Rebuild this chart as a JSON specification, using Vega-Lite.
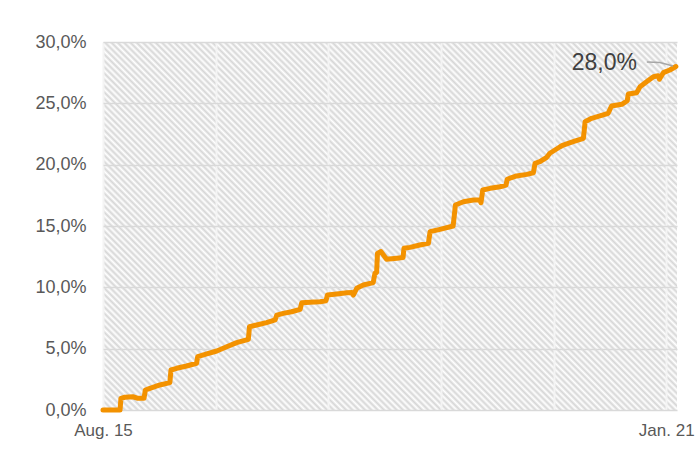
{
  "$schema": "https://vega.github.io/schema/vega-lite/v6.json",
  "width": 574,
  "height": 368,
  "autosize": {"type": "none"},
  "padding": {"left": 103, "top": 42, "right": 22, "bottom": 50},
  "background": "white",
  "view": {
    "stroke": null,
    "fill": {
      "gradient": "linear", "x1": 0, "y1": 1, "x2": 1.5598, "y2": 0,
      "stops": [
{"offset":0,"color":"#fff"},{"offset":0.0025,"color":"#d6d6d6"},{"offset":0.005,"color":"#fff"},{"offset":0.0075,"color":"#d6d6d6"},
{"offset":0.01,"color":"#fff"},{"offset":0.0125,"color":"#d6d6d6"},{"offset":0.015,"color":"#fff"},{"offset":0.0175,"color":"#d6d6d6"},
{"offset":0.02,"color":"#fff"},{"offset":0.0225,"color":"#d6d6d6"},{"offset":0.025,"color":"#fff"},{"offset":0.0275,"color":"#d6d6d6"},
{"offset":0.03,"color":"#fff"},{"offset":0.0325,"color":"#d6d6d6"},{"offset":0.035,"color":"#fff"},{"offset":0.0375,"color":"#d6d6d6"},
{"offset":0.04,"color":"#fff"},{"offset":0.0425,"color":"#d6d6d6"},{"offset":0.045,"color":"#fff"},{"offset":0.0475,"color":"#d6d6d6"},
{"offset":0.05,"color":"#fff"},{"offset":0.0525,"color":"#d6d6d6"},{"offset":0.055,"color":"#fff"},{"offset":0.0575,"color":"#d6d6d6"},
{"offset":0.06,"color":"#fff"},{"offset":0.0625,"color":"#d6d6d6"},{"offset":0.065,"color":"#fff"},{"offset":0.0675,"color":"#d6d6d6"},
{"offset":0.07,"color":"#fff"},{"offset":0.0725,"color":"#d6d6d6"},{"offset":0.075,"color":"#fff"},{"offset":0.0775,"color":"#d6d6d6"},
{"offset":0.08,"color":"#fff"},{"offset":0.0825,"color":"#d6d6d6"},{"offset":0.085,"color":"#fff"},{"offset":0.0875,"color":"#d6d6d6"},
{"offset":0.09,"color":"#fff"},{"offset":0.0925,"color":"#d6d6d6"},{"offset":0.095,"color":"#fff"},{"offset":0.0975,"color":"#d6d6d6"},
{"offset":0.10,"color":"#fff"},{"offset":0.1025,"color":"#d6d6d6"},{"offset":0.105,"color":"#fff"},{"offset":0.1075,"color":"#d6d6d6"},
{"offset":0.11,"color":"#fff"},{"offset":0.1125,"color":"#d6d6d6"},{"offset":0.115,"color":"#fff"},{"offset":0.1175,"color":"#d6d6d6"},
{"offset":0.12,"color":"#fff"},{"offset":0.1225,"color":"#d6d6d6"},{"offset":0.125,"color":"#fff"},{"offset":0.1275,"color":"#d6d6d6"},
{"offset":0.13,"color":"#fff"},{"offset":0.1325,"color":"#d6d6d6"},{"offset":0.135,"color":"#fff"},{"offset":0.1375,"color":"#d6d6d6"},
{"offset":0.14,"color":"#fff"},{"offset":0.1425,"color":"#d6d6d6"},{"offset":0.145,"color":"#fff"},{"offset":0.1475,"color":"#d6d6d6"},
{"offset":0.15,"color":"#fff"},{"offset":0.1525,"color":"#d6d6d6"},{"offset":0.155,"color":"#fff"},{"offset":0.1575,"color":"#d6d6d6"},
{"offset":0.16,"color":"#fff"},{"offset":0.1625,"color":"#d6d6d6"},{"offset":0.165,"color":"#fff"},{"offset":0.1675,"color":"#d6d6d6"},
{"offset":0.17,"color":"#fff"},{"offset":0.1725,"color":"#d6d6d6"},{"offset":0.175,"color":"#fff"},{"offset":0.1775,"color":"#d6d6d6"},
{"offset":0.18,"color":"#fff"},{"offset":0.1825,"color":"#d6d6d6"},{"offset":0.185,"color":"#fff"},{"offset":0.1875,"color":"#d6d6d6"},
{"offset":0.19,"color":"#fff"},{"offset":0.1925,"color":"#d6d6d6"},{"offset":0.195,"color":"#fff"},{"offset":0.1975,"color":"#d6d6d6"},
{"offset":0.20,"color":"#fff"},{"offset":0.2025,"color":"#d6d6d6"},{"offset":0.205,"color":"#fff"},{"offset":0.2075,"color":"#d6d6d6"},
{"offset":0.21,"color":"#fff"},{"offset":0.2125,"color":"#d6d6d6"},{"offset":0.215,"color":"#fff"},{"offset":0.2175,"color":"#d6d6d6"},
{"offset":0.22,"color":"#fff"},{"offset":0.2225,"color":"#d6d6d6"},{"offset":0.225,"color":"#fff"},{"offset":0.2275,"color":"#d6d6d6"},
{"offset":0.23,"color":"#fff"},{"offset":0.2325,"color":"#d6d6d6"},{"offset":0.235,"color":"#fff"},{"offset":0.2375,"color":"#d6d6d6"},
{"offset":0.24,"color":"#fff"},{"offset":0.2425,"color":"#d6d6d6"},{"offset":0.245,"color":"#fff"},{"offset":0.2475,"color":"#d6d6d6"},
{"offset":0.25,"color":"#fff"},{"offset":0.2525,"color":"#d6d6d6"},{"offset":0.255,"color":"#fff"},{"offset":0.2575,"color":"#d6d6d6"},
{"offset":0.26,"color":"#fff"},{"offset":0.2625,"color":"#d6d6d6"},{"offset":0.265,"color":"#fff"},{"offset":0.2675,"color":"#d6d6d6"},
{"offset":0.27,"color":"#fff"},{"offset":0.2725,"color":"#d6d6d6"},{"offset":0.275,"color":"#fff"},{"offset":0.2775,"color":"#d6d6d6"},
{"offset":0.28,"color":"#fff"},{"offset":0.2825,"color":"#d6d6d6"},{"offset":0.285,"color":"#fff"},{"offset":0.2875,"color":"#d6d6d6"},
{"offset":0.29,"color":"#fff"},{"offset":0.2925,"color":"#d6d6d6"},{"offset":0.295,"color":"#fff"},{"offset":0.2975,"color":"#d6d6d6"},
{"offset":0.30,"color":"#fff"},{"offset":0.3025,"color":"#d6d6d6"},{"offset":0.305,"color":"#fff"},{"offset":0.3075,"color":"#d6d6d6"},
{"offset":0.31,"color":"#fff"},{"offset":0.3125,"color":"#d6d6d6"},{"offset":0.315,"color":"#fff"},{"offset":0.3175,"color":"#d6d6d6"},
{"offset":0.32,"color":"#fff"},{"offset":0.3225,"color":"#d6d6d6"},{"offset":0.325,"color":"#fff"},{"offset":0.3275,"color":"#d6d6d6"},
{"offset":0.33,"color":"#fff"},{"offset":0.3325,"color":"#d6d6d6"},{"offset":0.335,"color":"#fff"},{"offset":0.3375,"color":"#d6d6d6"},
{"offset":0.34,"color":"#fff"},{"offset":0.3425,"color":"#d6d6d6"},{"offset":0.345,"color":"#fff"},{"offset":0.3475,"color":"#d6d6d6"},
{"offset":0.35,"color":"#fff"},{"offset":0.3525,"color":"#d6d6d6"},{"offset":0.355,"color":"#fff"},{"offset":0.3575,"color":"#d6d6d6"},
{"offset":0.36,"color":"#fff"},{"offset":0.3625,"color":"#d6d6d6"},{"offset":0.365,"color":"#fff"},{"offset":0.3675,"color":"#d6d6d6"},
{"offset":0.37,"color":"#fff"},{"offset":0.3725,"color":"#d6d6d6"},{"offset":0.375,"color":"#fff"},{"offset":0.3775,"color":"#d6d6d6"},
{"offset":0.38,"color":"#fff"},{"offset":0.3825,"color":"#d6d6d6"},{"offset":0.385,"color":"#fff"},{"offset":0.3875,"color":"#d6d6d6"},
{"offset":0.39,"color":"#fff"},{"offset":0.3925,"color":"#d6d6d6"},{"offset":0.395,"color":"#fff"},{"offset":0.3975,"color":"#d6d6d6"},
{"offset":0.40,"color":"#fff"},{"offset":0.4025,"color":"#d6d6d6"},{"offset":0.405,"color":"#fff"},{"offset":0.4075,"color":"#d6d6d6"},
{"offset":0.41,"color":"#fff"},{"offset":0.4125,"color":"#d6d6d6"},{"offset":0.415,"color":"#fff"},{"offset":0.4175,"color":"#d6d6d6"},
{"offset":0.42,"color":"#fff"},{"offset":0.4225,"color":"#d6d6d6"},{"offset":0.425,"color":"#fff"},{"offset":0.4275,"color":"#d6d6d6"},
{"offset":0.43,"color":"#fff"},{"offset":0.4325,"color":"#d6d6d6"},{"offset":0.435,"color":"#fff"},{"offset":0.4375,"color":"#d6d6d6"},
{"offset":0.44,"color":"#fff"},{"offset":0.4425,"color":"#d6d6d6"},{"offset":0.445,"color":"#fff"},{"offset":0.4475,"color":"#d6d6d6"},
{"offset":0.45,"color":"#fff"},{"offset":0.4525,"color":"#d6d6d6"},{"offset":0.455,"color":"#fff"},{"offset":0.4575,"color":"#d6d6d6"},
{"offset":0.46,"color":"#fff"},{"offset":0.4625,"color":"#d6d6d6"},{"offset":0.465,"color":"#fff"},{"offset":0.4675,"color":"#d6d6d6"},
{"offset":0.47,"color":"#fff"},{"offset":0.4725,"color":"#d6d6d6"},{"offset":0.475,"color":"#fff"},{"offset":0.4775,"color":"#d6d6d6"},
{"offset":0.48,"color":"#fff"},{"offset":0.4825,"color":"#d6d6d6"},{"offset":0.485,"color":"#fff"},{"offset":0.4875,"color":"#d6d6d6"},
{"offset":0.49,"color":"#fff"},{"offset":0.4925,"color":"#d6d6d6"},{"offset":0.495,"color":"#fff"},{"offset":0.4975,"color":"#d6d6d6"},
{"offset":0.50,"color":"#fff"},{"offset":0.5025,"color":"#d6d6d6"},{"offset":0.505,"color":"#fff"},{"offset":0.5075,"color":"#d6d6d6"},
{"offset":0.51,"color":"#fff"},{"offset":0.5125,"color":"#d6d6d6"},{"offset":0.515,"color":"#fff"},{"offset":0.5175,"color":"#d6d6d6"},
{"offset":0.52,"color":"#fff"},{"offset":0.5225,"color":"#d6d6d6"},{"offset":0.525,"color":"#fff"},{"offset":0.5275,"color":"#d6d6d6"},
{"offset":0.53,"color":"#fff"},{"offset":0.5325,"color":"#d6d6d6"},{"offset":0.535,"color":"#fff"},{"offset":0.5375,"color":"#d6d6d6"},
{"offset":0.54,"color":"#fff"},{"offset":0.5425,"color":"#d6d6d6"},{"offset":0.545,"color":"#fff"},{"offset":0.5475,"color":"#d6d6d6"},
{"offset":0.55,"color":"#fff"},{"offset":0.5525,"color":"#d6d6d6"},{"offset":0.555,"color":"#fff"},{"offset":0.5575,"color":"#d6d6d6"},
{"offset":0.56,"color":"#fff"},{"offset":0.5625,"color":"#d6d6d6"},{"offset":0.565,"color":"#fff"},{"offset":0.5675,"color":"#d6d6d6"},
{"offset":0.57,"color":"#fff"},{"offset":0.5725,"color":"#d6d6d6"},{"offset":0.575,"color":"#fff"},{"offset":0.5775,"color":"#d6d6d6"},
{"offset":0.58,"color":"#fff"},{"offset":0.5825,"color":"#d6d6d6"},{"offset":0.585,"color":"#fff"},{"offset":0.5875,"color":"#d6d6d6"},
{"offset":0.59,"color":"#fff"},{"offset":0.5925,"color":"#d6d6d6"},{"offset":0.595,"color":"#fff"},{"offset":0.5975,"color":"#d6d6d6"},
{"offset":0.60,"color":"#fff"},{"offset":0.6025,"color":"#d6d6d6"},{"offset":0.605,"color":"#fff"},{"offset":0.6075,"color":"#d6d6d6"},
{"offset":0.61,"color":"#fff"},{"offset":0.6125,"color":"#d6d6d6"},{"offset":0.615,"color":"#fff"},{"offset":0.6175,"color":"#d6d6d6"},
{"offset":0.62,"color":"#fff"},{"offset":0.6225,"color":"#d6d6d6"},{"offset":0.625,"color":"#fff"},{"offset":0.6275,"color":"#d6d6d6"},
{"offset":0.63,"color":"#fff"},{"offset":0.6325,"color":"#d6d6d6"},{"offset":0.635,"color":"#fff"},{"offset":0.6375,"color":"#d6d6d6"},
{"offset":0.64,"color":"#fff"},{"offset":0.6425,"color":"#d6d6d6"},{"offset":0.645,"color":"#fff"},{"offset":0.6475,"color":"#d6d6d6"},
{"offset":0.65,"color":"#fff"},{"offset":0.6525,"color":"#d6d6d6"},{"offset":0.655,"color":"#fff"},{"offset":0.6575,"color":"#d6d6d6"},
{"offset":0.66,"color":"#fff"},{"offset":0.6625,"color":"#d6d6d6"},{"offset":0.665,"color":"#fff"},{"offset":0.6675,"color":"#d6d6d6"},
{"offset":0.67,"color":"#fff"},{"offset":0.6725,"color":"#d6d6d6"},{"offset":0.675,"color":"#fff"},{"offset":0.6775,"color":"#d6d6d6"},
{"offset":0.68,"color":"#fff"},{"offset":0.6825,"color":"#d6d6d6"},{"offset":0.685,"color":"#fff"},{"offset":0.6875,"color":"#d6d6d6"},
{"offset":0.69,"color":"#fff"},{"offset":0.6925,"color":"#d6d6d6"},{"offset":0.695,"color":"#fff"},{"offset":0.6975,"color":"#d6d6d6"},
{"offset":0.70,"color":"#fff"},{"offset":0.7025,"color":"#d6d6d6"},{"offset":0.705,"color":"#fff"},{"offset":0.7075,"color":"#d6d6d6"},
{"offset":0.71,"color":"#fff"},{"offset":0.7125,"color":"#d6d6d6"},{"offset":0.715,"color":"#fff"},{"offset":0.7175,"color":"#d6d6d6"},
{"offset":0.72,"color":"#fff"},{"offset":0.7225,"color":"#d6d6d6"},{"offset":0.725,"color":"#fff"},{"offset":0.7275,"color":"#d6d6d6"},
{"offset":0.73,"color":"#fff"},{"offset":0.7325,"color":"#d6d6d6"},{"offset":0.735,"color":"#fff"},{"offset":0.7375,"color":"#d6d6d6"},
{"offset":0.74,"color":"#fff"},{"offset":0.7425,"color":"#d6d6d6"},{"offset":0.745,"color":"#fff"},{"offset":0.7475,"color":"#d6d6d6"}
      ]
    }
  },
  "config": {
    "font": "Liberation Sans",
    "axis": {"labelFont": "Liberation Sans", "labelColor": "#595959", "domain": false, "ticks": false, "tickSize": 0, "title": null}
  },
  "datasets": {
    "share": [
      {"date":"2015-08-01","value":0},
      {"date":"2015-09-30","value":0},
      {"date":"2015-10-03","value":0.0095},
      {"date":"2015-10-17","value":0.0104},
      {"date":"2015-11-14","value":0.0108},
      {"date":"2015-12-02","value":0.0095},
      {"date":"2015-12-23","value":0.0095},
      {"date":"2015-12-28","value":0.0163},
      {"date":"2016-01-13","value":0.0177},
      {"date":"2016-02-17","value":0.0204},
      {"date":"2016-03-23","value":0.0223},
      {"date":"2016-03-27","value":0.0326},
      {"date":"2016-04-16","value":0.034},
      {"date":"2016-05-21","value":0.0359},
      {"date":"2016-06-25","value":0.0381},
      {"date":"2016-06-29","value":0.0435},
      {"date":"2016-07-31","value":0.0457},
      {"date":"2016-09-04","value":0.0481},
      {"date":"2016-10-09","value":0.0516},
      {"date":"2016-11-13","value":0.0549},
      {"date":"2016-12-24","value":0.0576},
      {"date":"2016-12-28","value":0.0679},
      {"date":"2017-01-22","value":0.0693},
      {"date":"2017-02-26","value":0.0712},
      {"date":"2017-03-28","value":0.0734},
      {"date":"2017-04-03","value":0.0774},
      {"date":"2017-04-26","value":0.0788},
      {"date":"2017-05-25","value":0.0801},
      {"date":"2017-06-24","value":0.0821},
      {"date":"2017-06-30","value":0.0875},
      {"date":"2017-07-29","value":0.0878},
      {"date":"2017-09-02","value":0.0883},
      {"date":"2017-09-23","value":0.0891},
      {"date":"2017-09-28","value":0.0937},
      {"date":"2017-10-31","value":0.0946},
      {"date":"2017-12-05","value":0.0956},
      {"date":"2017-12-23","value":0.0958},
      {"date":"2017-12-28","value":0.0937},
      {"date":"2018-01-09","value":0.0992},
      {"date":"2018-02-01","value":0.1019},
      {"date":"2018-03-08","value":0.1038},
      {"date":"2018-03-14","value":0.1114},
      {"date":"2018-03-20","value":0.1121},
      {"date":"2018-03-23","value":0.1277},
      {"date":"2018-04-04","value":0.1292},
      {"date":"2018-04-24","value":0.1229},
      {"date":"2018-05-30","value":0.1237},
      {"date":"2018-06-21","value":0.1243},
      {"date":"2018-06-24","value":0.1318},
      {"date":"2018-07-15","value":0.1326},
      {"date":"2018-08-19","value":0.1345},
      {"date":"2018-09-18","value":0.1359},
      {"date":"2018-09-24","value":0.1454},
      {"date":"2018-10-29","value":0.1473},
      {"date":"2018-12-14","value":0.15},
      {"date":"2018-12-22","value":0.1671},
      {"date":"2019-01-19","value":0.1698},
      {"date":"2019-02-23","value":0.1712},
      {"date":"2019-03-18","value":0.1712},
      {"date":"2019-03-22","value":0.169},
      {"date":"2019-03-28","value":0.1793},
      {"date":"2019-04-23","value":0.1807},
      {"date":"2019-05-28","value":0.182},
      {"date":"2019-06-18","value":0.1834},
      {"date":"2019-06-22","value":0.1881},
      {"date":"2019-07-25","value":0.1908},
      {"date":"2019-08-30","value":0.1921},
      {"date":"2019-09-22","value":0.1934},
      {"date":"2019-09-28","value":0.2011},
      {"date":"2019-10-15","value":0.2024},
      {"date":"2019-11-08","value":0.206},
      {"date":"2019-11-19","value":0.2093},
      {"date":"2019-12-25","value":0.2146},
      {"date":"2020-01-05","value":0.216},
      {"date":"2020-02-09","value":0.2187},
      {"date":"2020-03-16","value":0.2215},
      {"date":"2020-03-22","value":0.235},
      {"date":"2020-04-14","value":0.2378},
      {"date":"2020-05-13","value":0.2397},
      {"date":"2020-06-11","value":0.2419},
      {"date":"2020-06-23","value":0.2478},
      {"date":"2020-07-29","value":0.2492},
      {"date":"2020-08-17","value":0.2521},
      {"date":"2020-08-21","value":0.2576},
      {"date":"2020-09-19","value":0.2587},
      {"date":"2020-10-01","value":0.2636},
      {"date":"2020-10-24","value":0.2676},
      {"date":"2020-11-17","value":0.2717},
      {"date":"2020-12-04","value":0.2725},
      {"date":"2020-12-08","value":0.2696},
      {"date":"2020-12-22","value":0.275},
      {"date":"2021-01-14","value":0.2772},
      {"date":"2021-02-04","value":0.28}
    ],
    "leader": [
      {"date":"2020-10-25","value":0.2837},
      {"date":"2020-12-10","value":0.2833},
      {"date":"2021-01-25","value":0.2804}
    ],
    "note": [
      {"date":"2020-09-20","value":0.283,"label":"28,0%"}
    ]
  },
  "layer": [
    {
      "data": {"name": "share"},
      "mark": {"type": "line", "color": "#F39200", "strokeWidth": 5, "strokeJoin": "round", "strokeCap": "round"},
      "encoding": {
        "x": {
          "field": "date", "type": "temporal",
          "scale": {"type": "utc", "domain": [{"year":2015,"month":8,"date":1,"utc":true},{"year":2021,"month":2,"date":8,"utc":true}]},
          "axis": {
            "values": [
              {"year":2015,"month":8,"date":1,"utc":true},
              {"year":2016,"month":8,"date":31,"utc":true},
              {"year":2017,"month":10,"date":1,"utc":true},
              {"year":2018,"month":11,"date":1,"utc":true},
              {"year":2019,"month":12,"date":2,"utc":true},
              {"year":2021,"month":1,"date":1,"utc":true}
            ],
            "labelExpr": "(datum.index == 0 || datum.index == 1) ? utcFormat(datum.value, '%b. %y') : ''",
            "labelFlush": false,
            "labelOverlap": false,
            "labelFontSize": 17,
            "labelPadding": 12,
            "grid": true,
            "gridColor": "#f4f4f4",
            "gridWidth": 2
          }
        },
        "y": {
          "field": "value", "type": "quantitative",
          "scale": {"domain": [0, 0.3], "nice": false, "zero": true},
          "axis": {
            "values": [0, 0.05, 0.1, 0.15, 0.2, 0.25, 0.3],
            "labelExpr": "replace(format(datum.value, '.1%'), '.', ',')",
            "labelFontSize": 18,
            "labelPadding": 17,
            "grid": true,
            "gridColor": "#d9d9d9",
            "gridWidth": 1.3
          }
        }
      }
    },
    {
      "data": {"name": "leader"},
      "mark": {"type": "line", "color": "#a6a6a6", "strokeWidth": 1.5},
      "encoding": {
        "x": {"field": "date", "type": "temporal"},
        "y": {"field": "value", "type": "quantitative"}
      }
    },
    {
      "data": {"name": "note"},
      "mark": {"type": "text", "align": "right", "baseline": "middle", "fontSize": 23, "color": "#404040", "font": "Liberation Sans"},
      "encoding": {
        "x": {"field": "date", "type": "temporal"},
        "y": {"field": "value", "type": "quantitative"},
        "text": {"field": "label"}
      }
    }
  ]
}
